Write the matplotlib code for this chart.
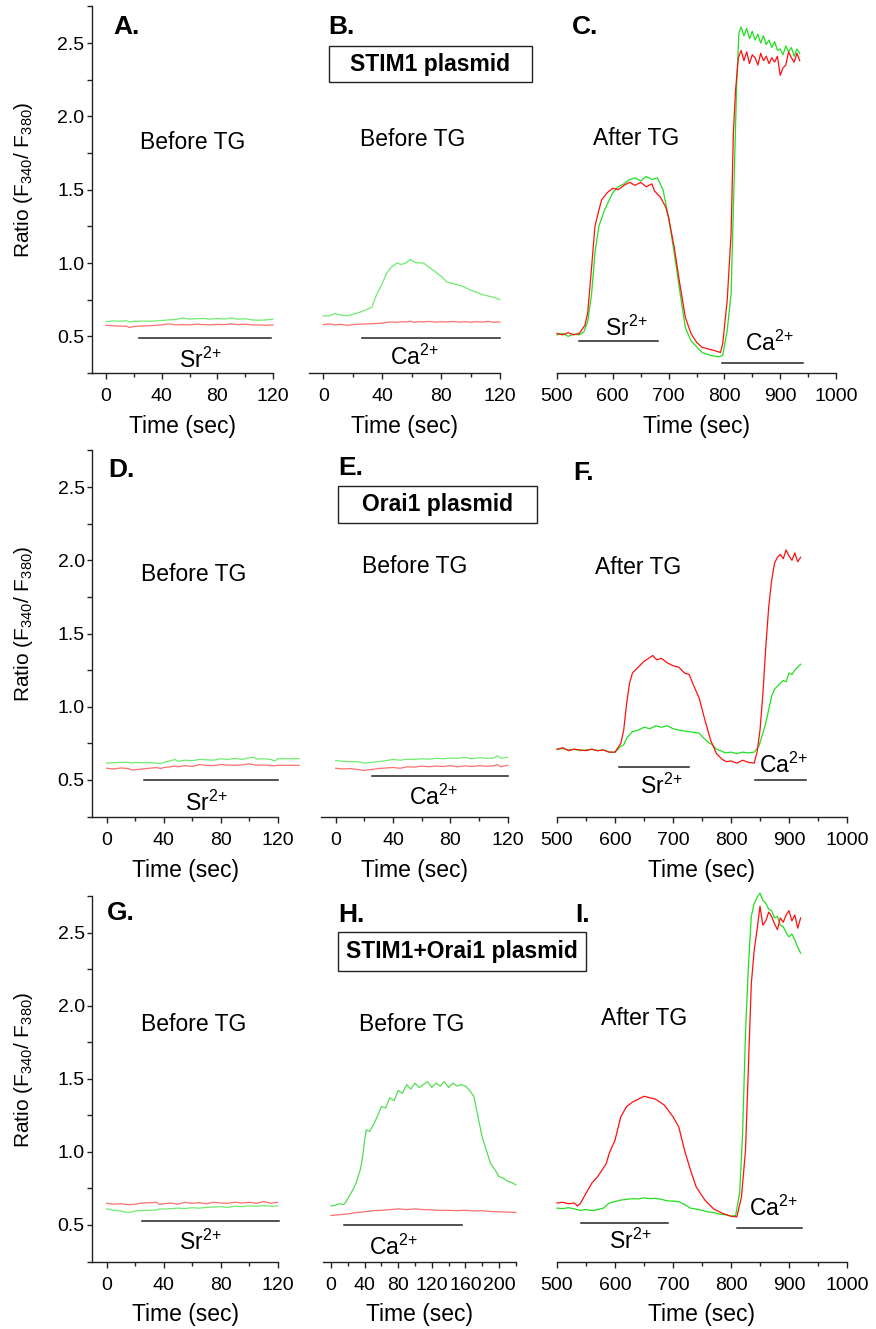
import matplotlib.pyplot as plt
from matplotlib.ticker import MultipleLocator
from matplotlib.patches import Rectangle

plt.rcParams['font.family'] = ['Liberation Sans', 'DejaVu Sans']
plt.rcParams['mathtext.fontset'] = 'custom'
plt.rcParams['mathtext.rm'] = 'Liberation Sans'
plt.rcParams['mathtext.it'] = 'Liberation Sans:italic'
plt.rcParams['mathtext.bf'] = 'Liberation Sans:bold'

# ---- data (time in sec, ratio F340/F380) ----
a_t = [0, 5, 10, 15, 17, 20, 25, 30, 35, 40, 45, 50, 55, 60, 65, 70, 75, 80, 85, 90, 95, 100, 105, 110, 115, 120]
a_green = [0.600, 0.605, 0.603, 0.606, 0.598, 0.603, 0.604, 0.603, 0.604, 0.608, 0.612, 0.615, 0.625, 0.618,
           0.620, 0.622, 0.617, 0.622, 0.618, 0.625, 0.617, 0.620, 0.612, 0.610, 0.612, 0.618]
a_red = [0.575, 0.572, 0.570, 0.568, 0.560, 0.568, 0.570, 0.572, 0.574, 0.578, 0.585, 0.578, 0.580, 0.578,
         0.583, 0.580, 0.578, 0.582, 0.580, 0.585, 0.580, 0.583, 0.578, 0.578, 0.575, 0.578]

b_t = [0, 4, 8, 12, 16, 20, 25, 30, 33, 36, 40, 43, 46, 50, 53, 56, 59, 62, 65, 68, 72, 76, 80, 84, 88, 92,
       96, 100, 104, 108, 112, 116, 120]
b_green = [0.64, 0.64, 0.655, 0.645, 0.64, 0.65, 0.665, 0.685, 0.70, 0.78, 0.86, 0.93, 0.97, 1.00, 0.99, 1.00,
           1.025, 1.005, 1.0, 1.0, 0.97, 0.94, 0.91, 0.87, 0.86, 0.85, 0.835, 0.815, 0.80, 0.785, 0.775, 0.765, 0.75]
b_red = [0.58, 0.585, 0.578, 0.582, 0.575, 0.58, 0.583, 0.585, 0.586, 0.588, 0.59, 0.595, 0.598, 0.596, 0.60,
         0.598, 0.603, 0.595, 0.60, 0.598, 0.602, 0.597, 0.60, 0.598, 0.602, 0.597, 0.600, 0.596, 0.600, 0.598,
         0.602, 0.596, 0.598]

c_t_red = [500, 510, 520, 530, 540, 550, 555, 562, 568, 575, 580, 590, 600, 610, 620, 630, 640, 650, 660, 670,
           675, 685, 695, 700, 710, 720, 730, 740, 750, 760, 770, 780, 793, 797, 805, 812, 816, 820, 825, 830,
           835, 840, 845, 850, 855, 860, 865, 870, 875, 880, 885, 890, 895, 900, 905, 910, 915, 920, 925, 930, 935]
c_red = [0.52, 0.51, 0.525, 0.51, 0.52, 0.575, 0.66, 0.97, 1.25, 1.36, 1.43, 1.48, 1.51, 1.50, 1.53, 1.55, 1.53,
         1.55, 1.52, 1.54, 1.49, 1.45, 1.38, 1.31, 1.11, 0.86, 0.63, 0.52, 0.46, 0.425, 0.415, 0.405, 0.39, 0.45,
         0.745, 1.2, 1.88, 2.18, 2.40, 2.45, 2.38, 2.44, 2.36, 2.42, 2.40, 2.35, 2.43, 2.38, 2.41, 2.36, 2.40,
         2.37, 2.41, 2.28, 2.33, 2.35, 2.44, 2.40, 2.37, 2.43, 2.38]
c_t_green = [500, 510, 520, 530, 540, 548, 555, 562, 568, 575, 585, 600, 610, 620, 630, 640, 650, 660, 670, 680,
             690, 700, 710, 720, 730, 740, 750, 760, 775, 790, 797, 805, 812, 818, 822, 826, 830, 835, 840, 845,
             850, 855, 860, 865, 870, 875, 880, 885, 890, 895, 900, 905, 910, 915, 920, 925, 930, 935]
c_green = [0.51, 0.52, 0.50, 0.515, 0.51, 0.53, 0.60, 0.79, 1.07, 1.25, 1.36, 1.48, 1.52, 1.54, 1.57, 1.58, 1.56,
           1.59, 1.57, 1.58, 1.50, 1.31, 1.07, 0.81, 0.56, 0.47, 0.43, 0.39, 0.37, 0.36, 0.37, 0.54, 0.79, 1.65,
           2.22, 2.57, 2.61, 2.55, 2.60, 2.53, 2.58, 2.52, 2.56, 2.50, 2.55, 2.49, 2.52, 2.47, 2.51, 2.45, 2.46,
           2.42, 2.48, 2.44, 2.47, 2.41, 2.46, 2.43]

d_t = [0, 5, 10, 15, 18, 20, 25, 30, 35, 38, 40, 45, 48, 50, 55, 60, 65, 70, 75, 80, 85, 90, 95, 100, 103, 105,
       110, 115, 118, 120, 125, 130, 135]
d_green = [0.615, 0.618, 0.62, 0.62, 0.615, 0.62, 0.618, 0.618, 0.615, 0.612, 0.62, 0.632, 0.64, 0.628, 0.635,
           0.632, 0.64, 0.638, 0.635, 0.645, 0.64, 0.648, 0.64, 0.652, 0.655, 0.643, 0.645, 0.64, 0.63, 0.645,
           0.645, 0.645, 0.645]
d_red = [0.58, 0.575, 0.582, 0.578, 0.568, 0.57, 0.575, 0.58, 0.585, 0.578, 0.585, 0.59, 0.595, 0.59, 0.598,
         0.592, 0.605, 0.60, 0.598, 0.605, 0.602, 0.60, 0.603, 0.61, 0.605, 0.60, 0.603, 0.598, 0.597, 0.60,
         0.60, 0.60, 0.60]

e_t = [0, 5, 10, 15, 20, 25, 30, 35, 40, 45, 50, 55, 60, 65, 70, 75, 80, 85, 90, 95, 100, 105, 110, 113, 115, 120]
e_green = [0.632, 0.628, 0.625, 0.625, 0.615, 0.62, 0.625, 0.632, 0.64, 0.635, 0.642, 0.64, 0.645, 0.642, 0.648,
           0.645, 0.65, 0.648, 0.655, 0.645, 0.652, 0.648, 0.65, 0.665, 0.648, 0.655]
e_red = [0.58, 0.575, 0.578, 0.572, 0.565, 0.572, 0.578, 0.582, 0.585, 0.58, 0.59, 0.588, 0.595, 0.59, 0.595,
         0.592, 0.598, 0.59, 0.596, 0.592, 0.598, 0.594, 0.596, 0.605, 0.59, 0.60]

f_t_red = [500, 510, 520, 530, 540, 550, 560, 570, 580, 590, 600, 610, 615, 620, 625, 630, 640, 650, 658, 665,
           672, 680, 690, 700, 710, 720, 728, 735, 745, 755, 765, 775, 785, 792, 800, 810, 820, 830, 840, 845,
           850, 855, 860, 865, 870, 875, 880, 885, 890, 895, 900, 905, 910, 915, 920]
f_red = [0.71, 0.72, 0.70, 0.71, 0.705, 0.70, 0.71, 0.70, 0.705, 0.69, 0.69, 0.75, 0.84, 1.02, 1.16, 1.23, 1.27,
         1.31, 1.33, 1.35, 1.32, 1.33, 1.30, 1.28, 1.27, 1.23, 1.22, 1.15, 1.06, 0.91, 0.77, 0.68, 0.64, 0.625,
         0.63, 0.615, 0.635, 0.62, 0.615, 0.69, 0.84, 1.09, 1.41, 1.68, 1.86, 1.98, 2.02, 2.04, 2.01, 2.07, 2.03,
         2.00, 2.05, 1.99, 2.02]
f_t_green = [500, 510, 520, 530, 540, 550, 560, 570, 580, 590, 600, 610, 615, 620, 630, 640, 650, 660, 670, 680,
             690, 700, 710, 745, 752, 760, 768, 775, 782, 790, 800, 810, 820, 830, 840, 848, 855, 860, 865, 870,
             875, 880, 885, 890, 895, 900, 905, 910, 915, 920]
f_green = [0.71, 0.715, 0.705, 0.71, 0.70, 0.705, 0.71, 0.70, 0.705, 0.69, 0.69, 0.73, 0.74, 0.785, 0.83, 0.84,
           0.86, 0.85, 0.87, 0.86, 0.87, 0.85, 0.84, 0.82, 0.79, 0.76, 0.74, 0.71, 0.70, 0.685, 0.69, 0.68, 0.69,
           0.685, 0.69, 0.73, 0.82, 0.89, 0.98, 1.07, 1.12, 1.14, 1.16, 1.18, 1.17, 1.23, 1.22, 1.25, 1.27, 1.29]

g_t = [0, 5, 10, 15, 20, 25, 30, 35, 37, 40, 45, 50, 55, 60, 65, 70, 75, 80, 85, 90, 95, 100, 105, 110, 115, 120]
g_red = [0.648, 0.642, 0.645, 0.638, 0.642, 0.65, 0.652, 0.655, 0.64, 0.645, 0.65, 0.642, 0.655, 0.648, 0.652,
         0.645, 0.655, 0.65, 0.648, 0.656, 0.65, 0.655, 0.648, 0.66, 0.648, 0.655]
g_green = [0.61, 0.60, 0.595, 0.585, 0.595, 0.598, 0.60, 0.602, 0.61, 0.608, 0.612, 0.615, 0.612, 0.618, 0.615,
           0.62, 0.622, 0.625, 0.62, 0.628, 0.625, 0.63, 0.628, 0.632, 0.628, 0.63]

h_t_green = [0, 5, 10, 15, 17, 22, 26, 30, 35, 38, 40, 42, 46, 50, 55, 60, 65, 70, 75, 80, 85, 90, 95, 100, 105,
             110, 115, 120, 125, 130, 135, 140, 145, 150, 155, 160, 165, 170, 175, 180, 185, 190, 195, 200, 205,
             210, 215, 220]
h_green = [0.63, 0.635, 0.645, 0.64, 0.65, 0.70, 0.74, 0.79, 0.88, 0.98, 1.08, 1.15, 1.14, 1.18, 1.24, 1.31, 1.30,
           1.37, 1.35, 1.42, 1.40, 1.46, 1.43, 1.47, 1.44, 1.46, 1.48, 1.44, 1.47, 1.45, 1.48, 1.44, 1.47, 1.45,
           1.46, 1.45, 1.42, 1.38, 1.24, 1.10, 1.01, 0.92, 0.88, 0.83, 0.82, 0.80, 0.79, 0.775]
h_t_red = [0, 10, 20, 30, 40, 50, 60, 70, 80, 90, 100, 110, 120, 130, 140, 150, 160, 170, 180, 190, 200, 210, 220]
h_red = [0.565, 0.57, 0.575, 0.585, 0.59, 0.598, 0.60, 0.605, 0.61, 0.605, 0.61, 0.605, 0.603, 0.60, 0.60, 0.598,
         0.60, 0.596, 0.597, 0.592, 0.59, 0.588, 0.585]

i_t_red = [500, 510, 520, 530, 535, 540, 550, 560, 570, 585, 590, 600, 610, 620, 630, 640, 650, 660, 670, 685,
           700, 710, 720, 730, 740, 755, 770, 785, 800, 810, 818, 825, 830, 835, 840, 845, 850, 855, 860, 865,
           870, 875, 880, 885, 890, 895, 900, 905, 910, 915, 920]
i_red = [0.65, 0.655, 0.645, 0.65, 0.63, 0.645, 0.717, 0.786, 0.83, 0.92, 0.99, 1.08, 1.24, 1.31, 1.34, 1.36,
         1.38, 1.37, 1.36, 1.32, 1.24, 1.17, 1.01, 0.877, 0.76, 0.67, 0.61, 0.58, 0.56, 0.555, 0.69, 1.01, 1.58,
         2.15, 2.38, 2.52, 2.68, 2.55, 2.58, 2.64, 2.61, 2.56, 2.52, 2.60, 2.57, 2.62, 2.65, 2.58, 2.62, 2.53, 2.60]
i_t_green = [500, 510, 520, 530, 540, 550, 560, 570, 580, 590, 600, 610, 620, 630, 640, 650, 660, 670, 680, 690,
             710, 720, 730, 745, 760, 770, 780, 790, 800, 808, 815, 820, 825, 830, 835, 840, 845, 850, 855, 860,
             865, 870, 875, 880, 885, 890, 895, 900, 905, 910, 915, 920]
i_green = [0.615, 0.612, 0.618, 0.61, 0.60, 0.605, 0.598, 0.605, 0.615, 0.65, 0.66, 0.67, 0.675, 0.68, 0.678,
           0.685, 0.68, 0.682, 0.675, 0.665, 0.66, 0.64, 0.615, 0.605, 0.59, 0.585, 0.575, 0.57, 0.56, 0.565, 0.72,
           1.13, 1.81, 2.27, 2.61, 2.70, 2.74, 2.77, 2.72, 2.70, 2.66, 2.65, 2.60, 2.61, 2.55, 2.54, 2.50, 2.47,
           2.49, 2.45, 2.40, 2.36]

# ion application bars: (ion, start, end, bar level, label x, label y)
a_bars = [('Sr', 24, 118.5, 0.49, 67.5, 0.335)]
b_bars = [('Ca', 26, 120, 0.49, 62, 0.355)]
c_bars = [('Sr', 540, 681, 0.47, 624, 0.555), ('Ca', 796, 940, 0.315, 881, 0.45)]
d_bars = [('Sr', 26, 120, 0.50, 70, 0.34)]
e_bars = [('Ca', 25, 120, 0.527, 68, 0.38)]
f_bars = [('Sr', 607, 727, 0.59, 680, 0.455), ('Ca', 842, 930, 0.50, 890, 0.60)]
g_bars = [('Sr', 25, 121, 0.53, 65.5, 0.38)]
h_bars = [('Ca', 16, 156, 0.50, 74, 0.35)]
i_bars = [('Sr', 541, 692, 0.516, 626, 0.39), ('Ca', 810, 922, 0.48, 873, 0.615)]

plasmids = ['STIM1 plasmid', 'Orai1 plasmid', 'STIM1+Orai1 plasmid']

W, H = 876, 1329
fig = plt.figure(figsize=(W / 100, H / 100), dpi=100)

# rows: (top px, bottom px) of the y range 0.25..2.75
rows = [(6.4, 373), (450.4, 816.6), (896, 1261.5)]
before_cols = {'red': '#ff7070', 'green': '#70ec70'}
after_cols = {'red': '#ff1010', 'green': '#20e020'}

panels = [
    # letter, row, x0, x1, xlim, major, minor, traces, bars, note, note xy, left spine, colours
    ('A.', 0, 92.1, 273, (-10, 120), 40, 20, [(a_t, a_green, 'green'), (a_t, a_red, 'red')], a_bars,
     'Before TG', (62.5, 1.82), True, before_cols),
    ('B.', 0, 308.6, 500, (-10, 120), 40, 20, [(b_t, b_green, 'green'), (b_t, b_red, 'red')], b_bars,
     'Before TG', (61, 1.84), False, before_cols),
    ('C.', 0, 557, 836, (500, 1000), 100, 50, [(c_t_green, c_green, 'green'), (c_t_red, c_red, 'red')], c_bars,
     'After TG', (642, 1.85), False, after_cols),
    ('D.', 1, 92.4, 277.7, (-10, 120), 40, 20, [(d_t, d_green, 'green'), (d_t, d_red, 'red')], d_bars,
     'Before TG', (61, 1.90), True, before_cols),
    ('E.', 1, 321.4, 507.7, (-10, 120), 40, 20, [(e_t, e_green, 'green'), (e_t, e_red, 'red')], e_bars,
     'Before TG', (55, 1.96), False, before_cols),
    ('F.', 1, 557, 847, (500, 1000), 100, 50, [(f_t_green, f_green, 'green'), (f_t_red, f_red, 'red')], f_bars,
     'After TG', (640, 1.95), False, after_cols),
    ('G.', 2, 92.4, 277.7, (-10, 120), 40, 20, [(g_t, g_green, 'green'), (g_t, g_red, 'red')], g_bars,
     'Before TG', (61, 1.87), True, before_cols),
    ('H.', 2, 322.6, 515.8, (-10, 220), 40, 20, [(h_t_green, h_green, 'green'), (h_t_red, h_red, 'red')], h_bars,
     'Before TG', (96, 1.87), False, {'red': '#ff7070', 'green': '#55dd55'}),
    ('I.', 2, 557, 847, (500, 1000), 100, 50, [(i_t_green, i_green, 'green'), (i_t_red, i_red, 'red')], i_bars,
     'After TG', (651, 1.91), False, after_cols),
]

for (letter, row, x0, x1, xlim, major, minor, traces, bars, note, note_xy, has_y, cols) in panels:
    top, bot = rows[row]
    ax = fig.add_axes([x0 / W, 1 - bot / H, (x1 - x0) / W, (bot - top) / H])
    for t, v, key in traces:
        ax.plot(t, v, color=cols[key], lw=0.9, clip_on=False)
    for ion, s, e, lvl, tx, ty in bars:
        ax.plot([s, e], [lvl, lvl], color='#222222', lw=1.1, clip_on=False)
        ax.text(tx, ty, ion + r'$^{2{+}}$', ha='center', va='center', fontsize=16.5)
    ax.text(note_xy[0], note_xy[1], note, ha='center', va='center', fontsize=16.5)

    ax.spines['top'].set_visible(False)
    ax.spines['right'].set_visible(False)
    for sp in ax.spines.values():
        sp.set_linewidth(1.0)
        sp.set_color('#222222')
    ax.xaxis.set_minor_locator(MultipleLocator(minor))
    if xlim[0] < 0:
        ax.set_xticks(list(range(0, xlim[1] + 1, major)))
    else:
        ax.set_xticks(list(range(500, 1001, major)))
    ax.tick_params(axis='x', which='major', length=4.5, width=1.0, pad=6.5, labelsize=14, color='#222222')
    ax.tick_params(axis='x', which='minor', length=3, width=1.0, color='#222222')
    ax.set_xlim(*xlim)
    ax.set_ylim(0.25, 2.75)
    ax.set_xlabel('Time (sec)', fontsize=16.5, labelpad=7)
    if has_y:
        ax.set_yticks([0.5, 1.0, 1.5, 2.0, 2.5])
        ax.set_yticklabels(['0.5', '1.0', '1.5', '2.0', '2.5'])
        ax.yaxis.set_minor_locator(MultipleLocator(0.25))
        ax.tick_params(axis='y', which='major', length=3.5, width=1.0, pad=2, labelsize=14, color='#222222')
        ax.tick_params(axis='y', which='minor', length=3.5, width=1.0, color='#222222')
        ax.set_ylim(0.25, 2.75)
    else:
        ax.spines['left'].set_visible(False)
        ax.tick_params(axis='y', which='both', left=False, labelleft=False)
    ax.patch.set_alpha(0)

# panel letters
letter_pos = {'A.': (113, 27), 'B.': (328, 27), 'C.': (572, 27), 'D.': (108, 470), 'E.': (338, 468),
              'F.': (573, 473), 'G.': (107, 913), 'H.': (338, 915), 'I.': (575, 915)}
for lab, (px, py) in letter_pos.items():
    fig.text(px / W, 1 - py / H, lab, ha='left', va='center', fontsize=19, fontweight='bold')

# plasmid boxes
boxes = [(329, 532, 46, 82), (338, 537, 486, 523), (338, 586, 932, 971)]
for name, (bx0, bx1, by0, by1) in zip(plasmids, boxes):
    fig.patches.append(Rectangle((bx0 / W, 1 - by1 / H), (bx1 - bx0) / W, (by1 - by0) / H,
                                 transform=fig.transFigure, fill=False, lw=1.0, ec='#222222'))
    fig.text((bx0 + bx1) / 2 / W, 1 - (by0 + by1) / 2 / H, name, ha='center', va='center',
             fontsize=16.5, fontweight='bold')

# y labels
for yc in [180, 624, 1070]:
    fig.text(24 / W, 1 - yc / H, r'Ratio (F$_{340}$/ F$_{380}$)', rotation=90, ha='center', va='center',
             fontsize=15)

fig.savefig('out.png', dpi=100)
